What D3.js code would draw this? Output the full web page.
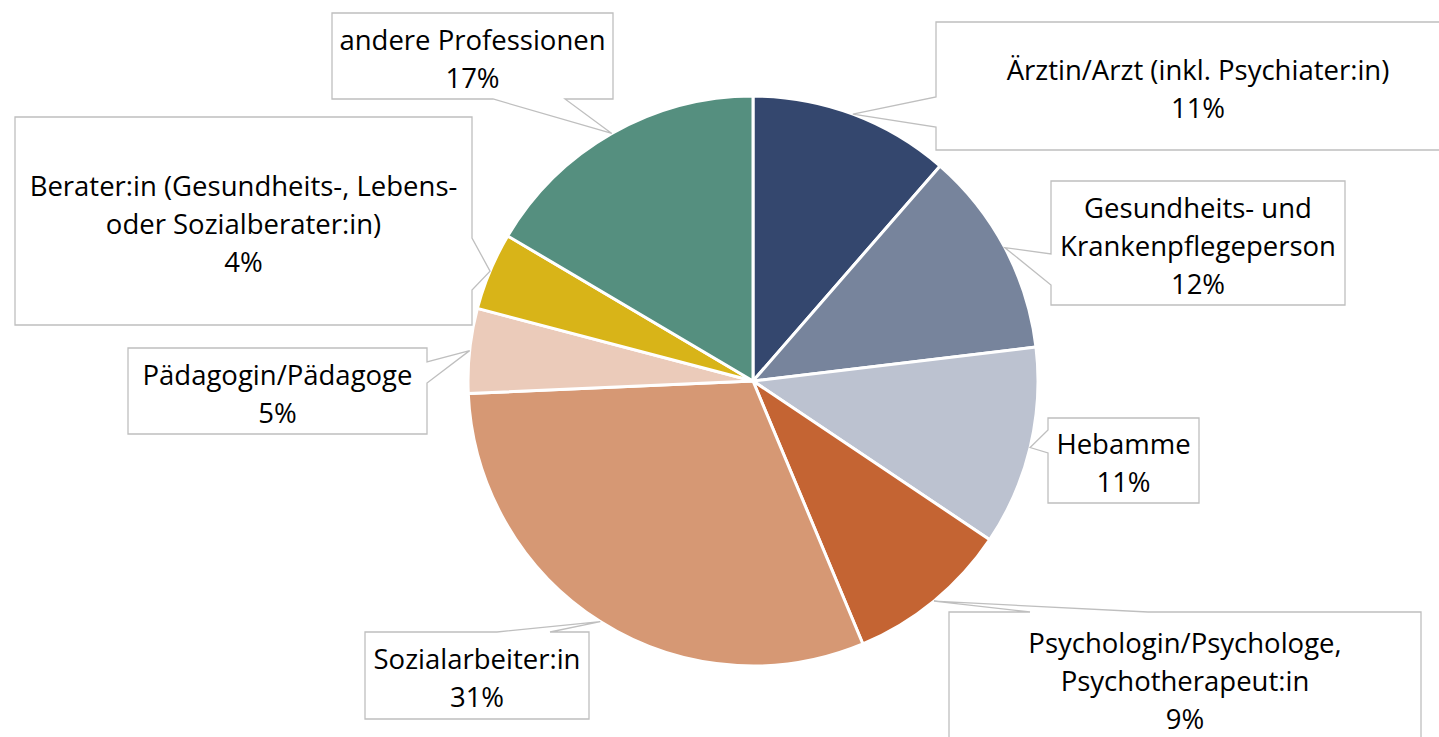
<!DOCTYPE html>
<html>
<head>
<meta charset="utf-8">
<script src="https://cdn.jsdelivr.net/npm/d3@7"></script>
<style>
  body { margin: 0; background: #fff; }
  svg { display: block; }
</style>
</head>
<body>
<svg id="svgRoot" width="1439" height="737"></svg>
<script>
// data (percent shares, clockwise from 12 o'clock)
const categories = [
  "Ärztin/Arzt (inkl. Psychiater:in)",
  "Gesundheits- und|Krankenpflegeperson",
  "Hebamme",
  "Psychologin/Psychologe,|Psychotherapeut:in",
  "Sozialarbeiter:in",
  "Pädagogin/Pädagoge",
  "Berater:in (Gesundheits-, Lebens-|oder Sozialberater:in)",
  "andere Professionen"
]
const values = [11.4, 11.7, 11.3, 9.3, 30.6, 4.8, 4.4, 16.5]
const colors = ["#34476e", "#77849c", "#bcc2d0", "#c46433", "#d69874", "#ebcbba", "#d8b418", "#558f7f"]

// callout boxes: box position + which side the pointer leaves from
const callouts = [
  { x: 936, y: 22, w: 524, h: 128, side: "left", a: 97, b: 127 },
  { x: 1051, y: 181, w: 294, h: 124, side: "left", a: 254, b: 285 },
  { x: 1048, y: 418, w: 151, h: 85, side: "left", a: 430, b: 453 },
  { x: 949, y: 612, w: 472, h: 132, side: "top", a: 1030, b: 1148 },
  { x: 365, y: 632, w: 224, h: 87, side: "top", a: 497, b: 550 },
  { x: 128, y: 348, w: 299, h: 86, side: "right", a: 362, b: 383 },
  { x: 15, y: 117, w: 457, h: 208, side: "right", a: 238, b: 290 },
  { x: 332, y: 13, w: 281, h: 86, side: "bottom", a: 493, b: 565 }
]

let svg = d3.select("#svgRoot")
const cx = 753
const cy = 381
const radius = 285

let pie = d3.pie().sort(null).value((d) => d)
let arcs = pie(values)

let arc = d3.arc().innerRadius(0).outerRadius(radius)
let edge = d3.arc().innerRadius(radius).outerRadius(radius)

let g_pie = svg.append("g").attr("transform", `translate(${cx}, ${cy})`)

g_pie.selectAll(".slice")
  .data(arcs)
  .enter()
  .append("path")
  .attr("class", "slice")
  .attr("d", arc)
  .attr("fill", (d, i) => colors[i])
  .attr("stroke", "#fff")
  .attr("stroke-width", 3)
  .attr("stroke-linejoin", "round")

function calloutPath(c, tip) {
  let l = c.x, t = c.y, r = c.x + c.w, b = c.y + c.h
  let pts = [[l, t]]
  if (c.side == "top") pts.push([c.a, t], tip, [c.b, t])
  pts.push([r, t])
  if (c.side == "right") pts.push([r, c.a], tip, [r, c.b])
  pts.push([r, b])
  if (c.side == "bottom") pts.push([c.b, b], tip, [c.a, b])
  pts.push([l, b])
  if (c.side == "left") pts.push([l, c.b], tip, [l, c.a])
  return "M" + pts.map((p) => p.join(",")).join("L") + "Z"
}

let g_labels = svg.append("g").attr("class", "g_labels")

arcs.forEach((d, i) => {
  let c = callouts[i]
  let e = edge.centroid(d)
  let tip = [cx + e[0], cy + e[1]]

  g_labels.append("path")
    .attr("d", calloutPath(c, tip))
    .attr("fill", "#fff")
    .attr("stroke", "#bfbfbf")
    .attr("stroke-width", 1.3)

  let lines = categories[i].split("|")
  lines.push(Math.round(values[i]) + "%")
  const lh = 38
  let y0 = c.y + c.h / 2 - (lines.length - 1) * lh / 2 + 3

  let txt = g_labels.append("text")
    .attr("font-family", "'Open Sans', sans-serif")
    .attr("font-size", "27.5px")
    .attr("fill", "#000")
    .attr("text-anchor", "middle")

  lines.forEach((s, k) => {
    txt.append("tspan")
      .attr("x", c.x + c.w / 2)
      .attr("y", y0 + k * lh)
      .attr("dy", "0.35em")
      .text(s)
  })
})
</script>
</body>
</html>
